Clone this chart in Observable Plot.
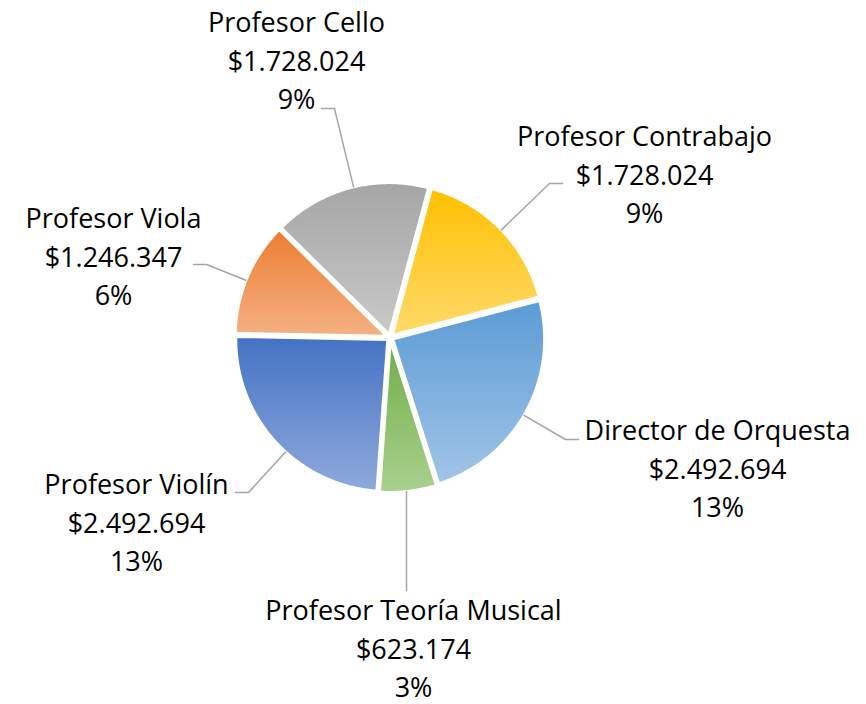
<!DOCTYPE html>
<html>
<head>
<meta charset="utf-8">
<script src="https://cdn.jsdelivr.net/npm/d3@7"></script>
<script src="https://cdn.jsdelivr.net/npm/@observablehq/plot@0.6"></script>
<style>
  html, body { margin: 0; padding: 0; background: #ffffff; }
  #chart { width: 866px; height: 704px; }
</style>
</head>
<body>
<div id="chart"></div>
<script>
// ---- Data ----
const categories = ["Profesor Contrabajo", "Director de Orquesta", "Profesor Teoría Musical", "Profesor Violín", "Profesor Viola", "Profesor Cello"];
const values = [1728024, 2492694, 623174, 2492694, 1246347, 1728024];
const percents = [9, 13, 3, 13, 6, 9];

// ---- Styles ----
const topColors = ["#FFC000", "#5B9BD5", "#70AD47", "#4472C4", "#ED7D31", "#A5A5A5"];
const bottomColors = ["#FFDA6B", "#A2C4E8", "#A9D18E", "#8FAADC", "#F4B183", "#C9C9C9"];

// ---- Layout ----
const W = 866, H = 704;
const CX = 389.5, CY = 337, R = 152, EXPLODE = 3;
const FIRST_ANGLE = 15 * Math.PI / 180;
const labelX = [644, 717, 413, 136, 113, 296];
const labelTop = [118, 412, 592, 466, 200, 4];
const leaderFrom = [[562, 183], [578, 439], [406, 590], [235, 492], [193, 264], [321, 108]];
const elbowDir = [-1, -1, 0, 1, 1, 1];

const fmt = d3.formatLocale({decimal: ",", thousands: ".", grouping: [3], currency: ["$", ""]}).format("$,.0f");

const arcs = d3.pie().sort(null).value(d => d)
  .startAngle(FIRST_ANGLE).endAngle(FIRST_ANGLE + 2 * Math.PI)(values);

const slicePts = [];
arcs.forEach((a, i) => {
  const mid = (a.startAngle + a.endAngle) / 2;
  const ox = CX + EXPLODE * Math.sin(mid), oy = CY - EXPLODE * Math.cos(mid);
  const key = categories[i];
  slicePts.push({key, i, x: ox, y: oy});
  const n = Math.max(2, Math.ceil((a.endAngle - a.startAngle) / (Math.PI / 360)));
  for (let k = 0; k <= n; k++) {
    const t = a.startAngle + (a.endAngle - a.startAngle) * k / n;
    slicePts.push({key, i, x: ox + R * Math.sin(t), y: oy - R * Math.cos(t)});
  }
  slicePts.push({key, i, x: ox, y: oy});
});

const leaderPts = [];
categories.forEach((c, i) => {
  const [fx, fy] = leaderFrom[i];
  const rr = R + EXPLODE;
  leaderPts.push({key: c, x: fx, y: fy});
  if (elbowDir[i] !== 0) {
    const ex = fx + elbowDir[i] * 13, ey = fy;
    const ang = Math.atan2(ex - CX, -(ey - CY));
    leaderPts.push({key: c, x: ex, y: ey});
    leaderPts.push({key: c, x: CX + rr * Math.sin(ang), y: CY - rr * Math.cos(ang)});
  } else {
    // vertical leader straight up to the pie's edge
    const dx = fx - CX;
    leaderPts.push({key: c, x: fx, y: CY + Math.sign(fy - CY) * Math.sqrt(rr * rr - dx * dx)});
  }
});

const labels = categories.map((c, i) => ({
  x: labelX[i], y: labelTop[i],
  text: `${c}\n${fmt(values[i])}\n${percents[i]}%`
}));

const defs = () => {
  const d = d3.create("svg:defs");
  categories.forEach((c, i) => {
    const g = d.append("linearGradient").attr("id", `grad${i}`)
      .attr("x1", 0).attr("y1", 0).attr("x2", 0).attr("y2", 1);
    g.append("stop").attr("offset", "0%").attr("stop-color", topColors[i]);
    g.append("stop").attr("offset", "100%").attr("stop-color", bottomColors[i]);
  });
  return d.node();
};

const chart = Plot.plot({
  width: W, height: H, margin: 0,
  x: {type: "identity", axis: null},
  y: {type: "identity", axis: null},
  color: {type: "identity"},
  style: {background: "#ffffff", fontFamily: "'Open Sans', sans-serif"},
  marks: [
    defs,
    Plot.line(slicePts, {
      x: "x", y: "y", z: "key",
      fill: d => `url(#grad${d.i})`,
      stroke: "#ffffff", strokeWidth: 3, strokeLinejoin: "round", curve: "linear"
    }),
    Plot.line(leaderPts, {x: "x", y: "y", z: "key", stroke: "#A6A6A6", strokeWidth: 1.5, curve: "linear"}),
    Plot.text(labels, {
      x: "x", y: "y", text: "text",
      fontSize: 27, lineHeight: 1.433, lineAnchor: "top", textAnchor: "middle",
      fill: "#000000", fontFamily: "'Open Sans', sans-serif"
    })
  ]
});
document.getElementById("chart").appendChild(chart);
</script>
</body>
</html>
